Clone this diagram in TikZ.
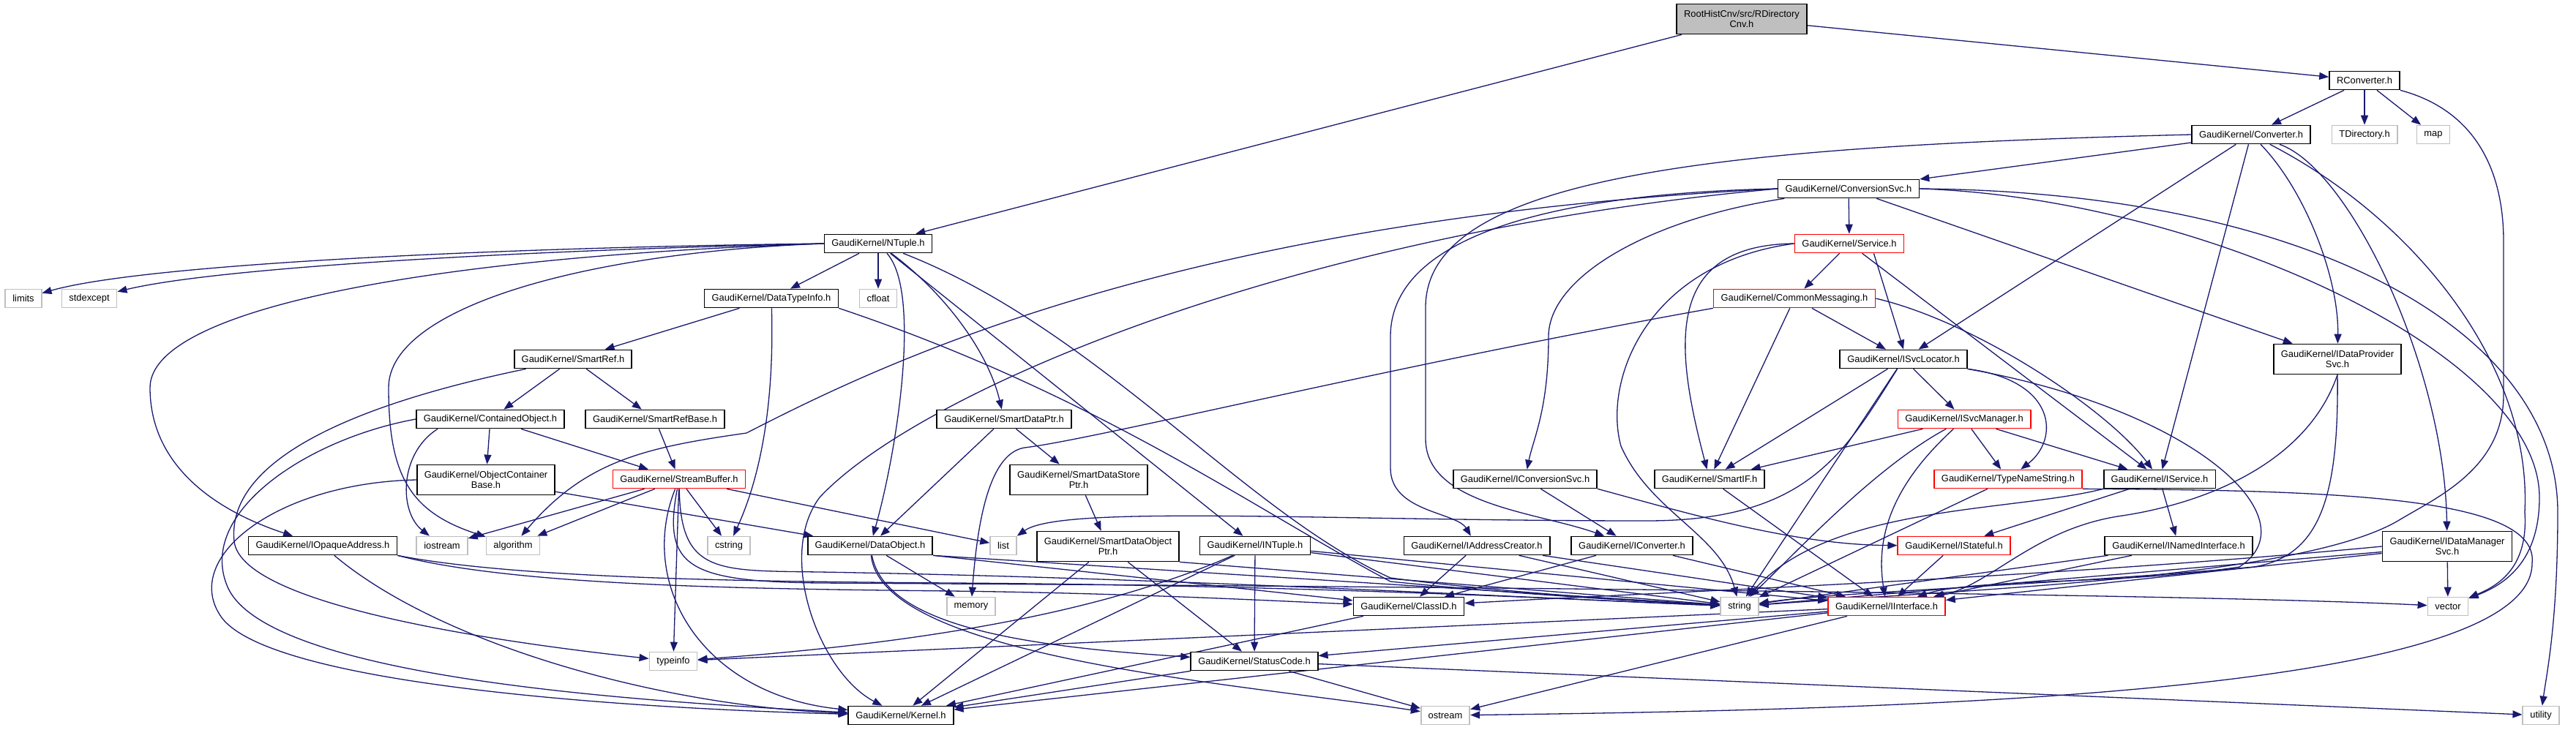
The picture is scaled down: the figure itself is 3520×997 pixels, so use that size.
\documentclass[tikz,border=0pt]{standalone}
\usepackage{fontspec}
\newfontfamily\dotfont{Liberation Sans}
\usetikzlibrary{arrows.meta, backgrounds}
\definecolor{edgecolor}{RGB}{25, 25, 112}
\definecolor{syscolor}{RGB}{191, 191, 191}
\definecolor{trunccolor}{RGB}{255, 0, 0}
\definecolor{rootcolor}{RGB}{191, 191, 191}

\begin{document}
\begin{tikzpicture}[
    x=1pt, y=-1pt,
    hdr/.style={draw=black, fill=white, line width=1.7pt, minimum height=25pt,
        inner xsep=10pt, inner ysep=0pt, font={\dotfont\fontsize{12.9pt}{14pt}\selectfont}},
    sys hdr/.style={hdr, draw=syscolor},
    trunc hdr/.style={hdr, draw=trunccolor},
    two lines/.style={align=center, minimum height=41pt},
    root hdr/.style={hdr, two lines, fill=rootcolor},
    incl/.style={-{Triangle[length=13pt, width=10pt]}, draw=edgecolor, line width=1.3pt},
]
\useasboundingbox (0,0) rectangle (3520,997);

% --- Row y-positions ---
\def\rowI{26}
\def\rowII{110}
\def\rowIII{184}
\def\rowIV{258}
\def\rowV{333}
\def\rowVI{408}
\def\rowVII{491}
\def\rowVIII{573}
\def\rowIX{655}
\def\rowX{746}
\def\rowXI{829}
\def\rowXII{904}
\def\rowXIII{978}

% ======= TOP =======
\node[root hdr] (rdc) at (2380,\rowI) {RootHistCnv/src/RDirectory\\Cnv.h};
\node[hdr] (rconv) at (3231,\rowII) {RConverter.h};
\node[hdr] (conv) at (3076,\rowIII) {GaudiKernel/Converter.h};
\node[sys hdr] (tdir) at (3231,\rowIII) {TDirectory.h};
\node[sys hdr] (map) at (3325,\rowIII) {map};
\node[hdr] (csvc) at (2526,\rowIV) {GaudiKernel/ConversionSvc.h};
\node[hdr] (ntuple) at (1200,\rowV) {GaudiKernel/NTuple.h};
\node[trunc hdr] (svc) at (2527,\rowV) {GaudiKernel/Service.h};

% ======= MIDDLE =======
\node[sys hdr] (limits) at (32,\rowVI) {limits};
\node[sys hdr] (stdexcept) at (122,\rowVI) {stdexcept};
\node[hdr] (dti) at (1054,\rowVI) {GaudiKernel/DataTypeInfo.h};
\node[sys hdr] (cfloat) at (1200,\rowVI) {cfloat};
\node[trunc hdr] (cmsg) at (2452,\rowVI) {GaudiKernel/CommonMessaging.h};

\node[hdr] (sref) at (783,\rowVII) {GaudiKernel/SmartRef.h};
\node[hdr] (isvcloc) at (2601,\rowVII) {GaudiKernel/ISvcLocator.h};
\node[hdr, two lines] (idps) at (3194,\rowVII) {GaudiKernel/IDataProvider\\Svc.h};

\node[hdr] (cobj) at (670,\rowVIII) {GaudiKernel/ContainedObject.h};
\node[hdr] (srefb) at (895,\rowVIII) {GaudiKernel/SmartRefBase.h};
\node[hdr] (sdptr) at (1372,\rowVIII) {GaudiKernel/SmartDataPtr.h};
\node[trunc hdr] (isvcmgr) at (2684,\rowVIII) {GaudiKernel/ISvcManager.h};

\node[hdr, two lines] (ocb) at (664,656) {GaudiKernel/ObjectContainer\\Base.h};
\node[trunc hdr] (sbuf) at (928,\rowIX) {GaudiKernel/StreamBuffer.h};
\node[hdr, two lines] (sdsptr) at (1474,656) {GaudiKernel/SmartDataStore\\Ptr.h};
\node[hdr] (iconvsvc) at (2084,\rowIX) {GaudiKernel/IConversionSvc.h};
\node[hdr] (smartif) at (2336,\rowIX) {GaudiKernel/SmartIF.h};
\node[trunc hdr] (tns) at (2744,\rowIX) {GaudiKernel/TypeNameString.h};
\node[hdr] (iservice) at (2951,\rowIX) {GaudiKernel/IService.h};

% ======= LOWER =======
\node[hdr] (iopq) at (441,\rowX) {GaudiKernel/IOpaqueAddress.h};
\node[sys hdr] (iostream) at (604,\rowX) {iostream};
\node[sys hdr] (algorithm) at (701,\rowX) {algorithm};
\node[sys hdr] (cstring) at (996,\rowX) {cstring};
\node[hdr] (dobj) at (1189,\rowX) {GaudiKernel/DataObject.h};
\node[sys hdr] (list) at (1371,\rowX) {list};
\node[hdr, two lines] (sdoptr) at (1514,747) {GaudiKernel/SmartDataObject\\Ptr.h};
\node[hdr] (intuple) at (1715,\rowX) {GaudiKernel/INTuple.h};
\node[hdr] (iaddr) at (2018,\rowX) {GaudiKernel/IAddressCreator.h};
\node[hdr] (iconv) at (2230,\rowX) {GaudiKernel/IConverter.h};
\node[trunc hdr] (istateful) at (2670,\rowX) {GaudiKernel/IStateful.h};
\node[hdr] (inamed) at (2977,\rowX) {GaudiKernel/INamedInterface.h};
\node[hdr, two lines] (idms) at (3344,747) {GaudiKernel/IDataManager\\Svc.h};

\node[sys hdr] (memory) at (1327,\rowXI) {memory};
\node[hdr] (classid) at (1925,\rowXI) {GaudiKernel/ClassID.h};
\node[sys hdr] (string) at (2377,\rowXI) {string};
\node[trunc hdr] (iiface) at (2578,\rowXI) {GaudiKernel/IInterface.h};
\node[sys hdr] (vector) at (3345,\rowXI) {vector};

\node[sys hdr] (typeinfo) at (920,\rowXII) {typeinfo};
\node[hdr] (scode) at (1714,\rowXII) {GaudiKernel/StatusCode.h};

\node[hdr] (kernel) at (1231,\rowXIII) {GaudiKernel/Kernel.h};
\node[sys hdr] (ostream) at (1975,\rowXIII) {ostream};
\node[sys hdr] (utility) at (3472,\rowXIII) {utility};

\begin{scope}[on background layer]
\fill[white] (0,0) rectangle (3520,997);

% ======= STRAIGHT INCLUDES =======
\foreach \a/\b in {rdc/ntuple, rdc/rconv, rconv/conv, rconv/tdir, rconv/map,
    conv/csvc, conv/isvcloc, conv/iservice, csvc/svc, csvc/idps,
    svc/cmsg, svc/iservice, cmsg/smartif, cmsg/isvcloc,
    isvcloc/smartif, isvcloc/isvcmgr, isvcloc/string,
    isvcmgr/smartif, isvcmgr/tns, isvcmgr/iservice, tns/string,
    iservice/inamed, iservice/istateful, inamed/iiface, inamed/string,
    idms/iiface, idms/string, idms/vector,
    iaddr/classid, iaddr/string, iaddr/iiface, iconv/classid, iconv/iiface,
    iconvsvc/iconv, istateful/iiface, smartif/iiface,
    ntuple/dti, ntuple/cfloat, ntuple/intuple, dti/sref,
    sref/cobj, sref/srefb, srefb/sbuf, cobj/ocb, cobj/sbuf, ocb/dobj,
    sbuf/list, sbuf/cstring, sbuf/typeinfo, sbuf/iostream, sbuf/algorithm,
    sdptr/sdsptr, sdptr/dobj, sdsptr/sdoptr, sdoptr/kernel, sdoptr/scode,
    dobj/memory, intuple/scode, intuple/kernel, intuple/string, intuple/iiface,
    classid/kernel, scode/kernel, scode/ostream, scode/utility,
    iiface/typeinfo, iiface/scode, iiface/kernel, iiface/ostream} {
    \draw[incl] (\a) -- (\b);
}
\draw[incl] ([xshift=-42pt]svc.south east) -- (isvcloc.north);
\draw[incl] (dobj.south east) -- (classid);
\draw[incl] (dobj.south east) -- (string);
\draw[incl] (sdoptr.south east) -- (string);

% ======= ROUTED INCLUDES (right part) =======
\draw[incl] (rconv.south east) .. controls (3380,150) and (3421,230) .. (3421,330) -- (3421,540)
    .. controls (3421,640) and (3330,680) .. (3280,710)
    .. controls (3150,790) and (2700,805) .. (string);
\draw[incl] (conv.west) .. controls (2350,200) and (1948,240) .. (1948,420) -- (1948,600)
    .. controls (1948,690) and (2100,700) .. (iconv);
\draw[incl] (conv) .. controls (3150,260) and (3196,380) .. (idps);
\draw[incl] (conv) .. controls (3210,230) and (3340,500) .. (idms);
\draw[incl] (conv) .. controls (3300,300) and (3460,500) .. (3450,700)
    .. controls (3455,775) and (3415,800) .. (vector);
\draw[incl] (csvc) .. controls (2250,300) and (2116,380) .. (2116,460)
    .. controls (2116,560) and (2095,600) .. (iconvsvc);
\draw[incl] (csvc.west) .. controls (2100,265) and (1900,330) .. (1900,460) -- (1900,640)
    .. controls (1900,700) and (1990,700) .. (iaddr);
\draw[incl] (csvc.west) .. controls (1750,320) and (1250,540) .. (1120,680)
    .. controls (1060,760) and (1120,920) .. (kernel);
\draw[incl] (csvc.west) .. controls (1600,300) and (1200,500) .. (1020,592)
    .. controls (880,612) and (800,630) .. (algorithm);
\draw[incl] (csvc.east) .. controls (3000,270) and (3470,480) .. (3470,680)
    .. controls (3470,770) and (3420,800) .. (vector);
\draw[incl] (csvc.east) .. controls (3150,262) and (3495,450) .. (3495,700)
    .. controls (3495,850) and (3480,920) .. (utility);
\draw[incl] (svc.west) .. controls (2270,335) and (2290,480) .. (smartif);
\draw[incl] (svc.west) .. controls (2250,360) and (2190,520) .. (2215,610)
    .. controls (2255,700) and (2350,730) .. (string);
\draw[incl] (cmsg.south west) .. controls (1900,500) and (1500,600) .. (1400,612)
    .. controls (1350,620) and (1335,720) .. (memory);
\draw[incl] (cmsg.east) .. controls (2700,440) and (2880,560) .. (iservice);
\draw[incl] (isvcloc.south east) .. controls (2810,520) and (2815,600) .. (tns);
\draw[incl] (isvcloc) .. controls (2520,620) and (2470,712) .. (2250,712)
    .. controls (1800,712) and (1450,690) .. (list);
\draw[incl] (isvcloc.south east) .. controls (3000,560) and (3160,710) .. (3060,775)
    .. controls (2900,800) and (2700,790) .. (iiface);
\draw[incl] (isvcmgr) .. controls (2600,650) and (2560,720) .. (iiface);
\draw[incl] (isvcmgr) .. controls (2560,640) and (2450,760) .. (string);
\draw[incl] (tns.south east) .. controls (3200,670) and (3470,680) .. (3460,770)
    .. controls (3460,950) and (2600,970) .. (ostream);
\draw[incl] (iservice.south west) .. controls (2750,700) and (2500,690) .. (string);
\draw[incl] (idps.south) .. controls (3150,640) and (3000,690) .. (2900,705)
    .. controls (2780,722) and (2720,800) .. (iiface);
\draw[incl] (idps.south) .. controls (3196,680) and (3170,760) .. (3080,775)
    .. controls (2800,800) and (2500,810) .. (string);
\draw[incl] (idms.west) .. controls (2800,790) and (2300,808) .. (classid);
\draw[incl] (iconvsvc.south east) .. controls (2300,700) and (2450,745) .. (istateful);

% ======= ROUTED INCLUDES (left part) =======
\draw[incl] (ntuple.west) .. controls (700,338) and (200,360) .. (limits);
\draw[incl] (ntuple.west) .. controls (720,342) and (300,365) .. (stdexcept);
\draw[incl] (ntuple.west) .. controls (600,350) and (205,420) .. (205,530)
    .. controls (205,640) and (300,700) .. (iopq);
\draw[incl] (ntuple.west) .. controls (800,345) and (531,420) .. (531,530)
    .. controls (531,650) and (560,700) .. (algorithm);
\draw[incl] (ntuple) .. controls (1260,400) and (1225,620) .. (dobj);
\draw[incl] (ntuple) .. controls (1290,400) and (1350,480) .. (sdptr);
\draw[incl] (ntuple) .. controls (1500,450) and (1700,700) .. (1900,790)
    .. controls (2050,810) and (2250,822) .. (string);
\draw[incl] (dti) .. controls (1058,550) and (1040,650) .. (cstring);
\draw[incl] (dti.south east) .. controls (1500,540) and (1720,700) .. (1900,795)
    .. controls (2100,815) and (2250,822) .. (string);
\draw[incl] (sref) .. controls (450,560) and (310,640) .. (320,740)
    .. controls (330,830) and (700,880) .. (typeinfo);
\draw[incl] ([xshift=30pt]cobj.south west) .. controls (545,620) and (545,700) .. (iostream);
\draw[incl] (cobj.west) .. controls (420,600) and (270,700) .. (310,800)
    .. controls (360,930) and (900,960) .. (kernel);
\draw[incl] (ocb.west) .. controls (380,660) and (250,760) .. (300,840)
    .. controls (360,940) and (900,970) .. (kernel);
\draw[incl] (iopq) .. controls (600,880) and (900,965) .. (kernel);
\draw[incl] (iopq.south east) .. controls (700,790) and (1000,795) .. (1300,797)
    .. controls (1800,800) and (2200,822) .. (string);
\draw[incl] (iopq.south east) .. controls (700,800) and (1000,805) .. (1300,808)
    .. controls (1550,811) and (1750,822) .. (classid);
\draw[incl] (sbuf) .. controls (930,785) and (980,780) .. (1120,782)
    .. controls (1600,790) and (2100,818) .. (string);
\draw[incl] (sbuf) .. controls (905,775) and (940,795) .. (1120,797)
    .. controls (2000,802) and (3000,812) .. (vector);
\draw[incl] (sbuf) .. controls (870,800) and (960,950) .. (kernel);
\draw[incl] (dobj) .. controls (1210,860) and (1420,885) .. (scode);
\draw[incl] (dobj) .. controls (1205,900) and (1700,935) .. (ostream);
\draw[incl] (intuple) .. controls (1500,840) and (1250,880) .. (typeinfo);
\end{scope}

\end{tikzpicture}
\end{document}
